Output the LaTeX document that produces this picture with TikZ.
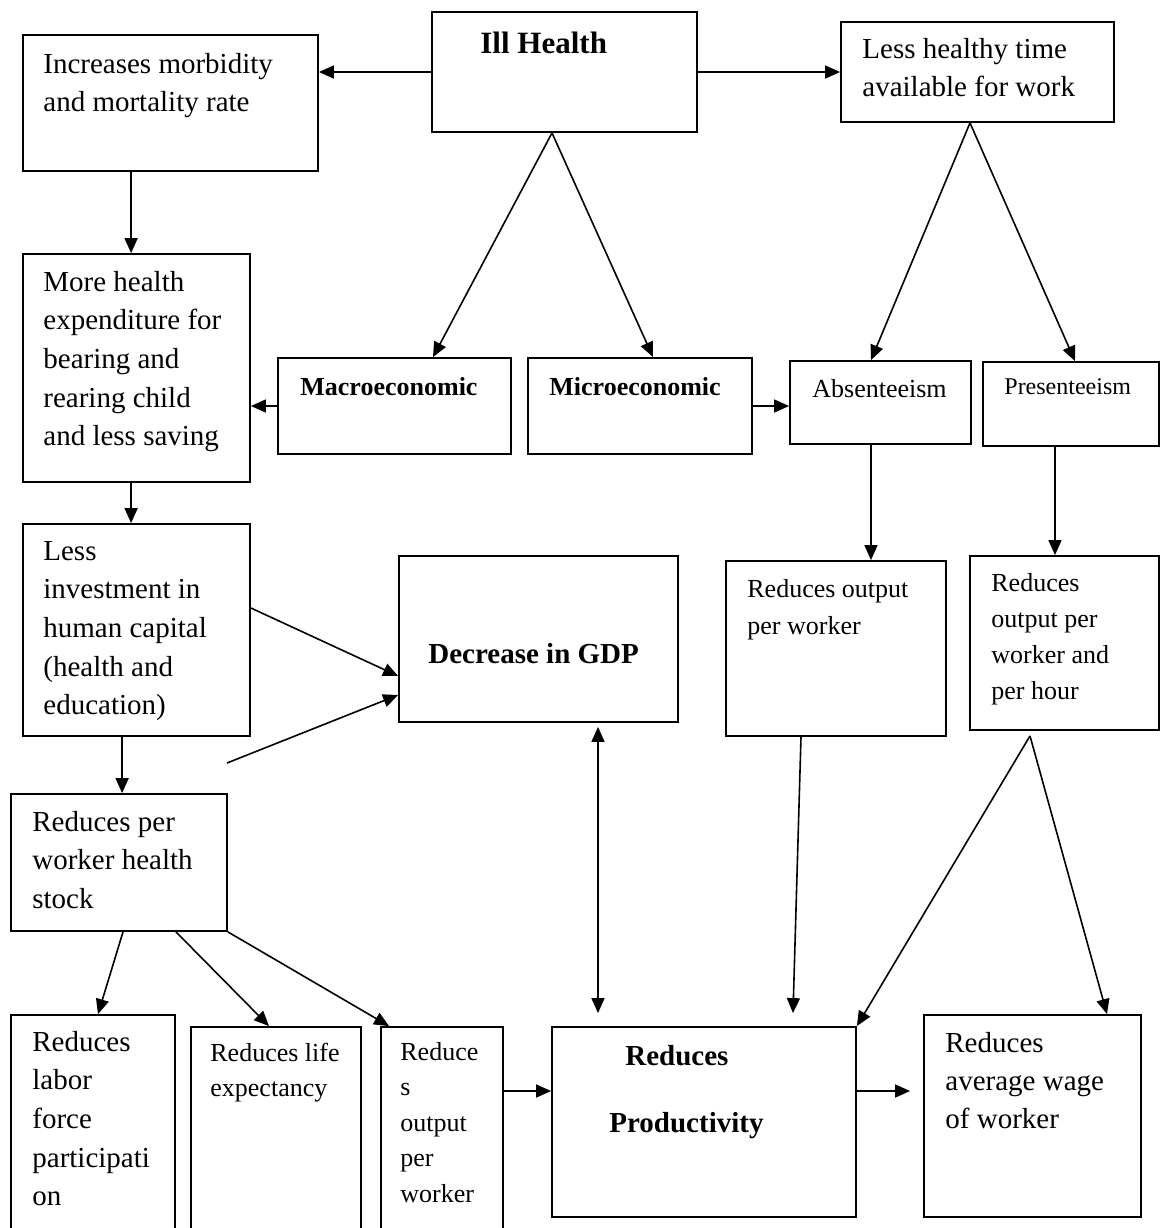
\documentclass[tikz,border=0pt]{standalone}
\usepackage{fontspec}
\setmainfont{Liberation Serif}
\usetikzlibrary{arrows.meta}
% lines stacked from the first baseline down
\newcommand{\boxlines}[1]{\begin{tabular}[t]{@{}l@{}}#1\end{tabular}}

\begin{document}
\begin{tikzpicture}[
  x=0.5pt, y=-0.5pt,
  box/.style={rectangle, draw, line width=0.9pt, inner sep=0pt},
  txt/.style={inner sep=0pt, anchor=base west, font=\fontsize{14.5}{19.35}\selectfont},
  txtsm/.style={txt, font=\fontsize{13}{18}\selectfont},
  hd/.style={txt, font=\fontsize{14.5}{19.35}\selectfont\bfseries},
  hdsm/.style={txt, font=\fontsize{13}{18}\selectfont\bfseries},
  arr/.style={-{Triangle[length=7.5pt,width=6.5pt]}, line width=0.8pt},
  arrboth/.style={{Triangle[length=7.5pt,width=6.5pt]}-{Triangle[length=7.5pt,width=6.5pt]}, line width=0.8pt}
]
\useasboundingbox (0,0) rectangle (1164,1228);
\clip (0,0) rectangle (1164,1228);

% top row
\node[box, minimum width=132.5pt, minimum height=60pt] (ill) at (564.5,72) {};
\node[hd, font=\fontsize{15.5}{19}\selectfont\bfseries] (illtxt) at (480,53) {Ill Health};
\node[box, minimum width=147.5pt, minimum height=68pt] (morb) at (170.5,103) {};
\node[txt] (morbtxt) at (43,73) {\boxlines{Increases morbidity\\and mortality rate}};
\node[box, minimum width=136.5pt, minimum height=50pt] (lessh) at (977.5,72) {};
\node[txt] (lesshtxt) at (862,58) {\boxlines{Less healthy time\\available for work}};

% middle row
\node[box, minimum width=113.5pt, minimum height=114pt] (exp) at (136.5,368) {};
\node[txt] (exptxt) at (43,291) {\boxlines{More health\\expenditure for\\bearing and\\rearing child\\and less saving}};
\node[box, minimum width=116.5pt, minimum height=48pt] (macro) at (394.5,406) {};
\node[hdsm] (macrotxt) at (300,395) {Macroeconomic};
\node[box, minimum width=112pt, minimum height=48pt] (micro) at (640,406) {};
\node[hdsm] (microtxt) at (549,395) {Microeconomic};
\node[box, minimum width=90.5pt, minimum height=41.5pt] (absent) at (880.5,402.5) {};
\node[txtsm] (absenttxt) at (812,397) {Absenteeism};
\node[box, minimum width=88pt, minimum height=42pt] (present) at (1071,404) {};
\node[txt, font=\fontsize{12}{16}\selectfont] (presenttxt) at (1004,394) {Presenteeism};

% lower middle
\node[box, minimum width=113.5pt, minimum height=106pt] (inv) at (136.5,630) {};
\node[txt] (invtxt) at (43,560) {\boxlines{Less\\investment in\\human capital\\(health and\\education)}};
\node[box, minimum width=139.5pt, minimum height=83pt] (gdp) at (538.5,639) {};
\node[hd] (gdptxt) at (428,663) {Decrease in GDP};
\node[box, minimum width=110pt, minimum height=87.5pt] (rop1) at (836,648.5) {};
\node[txtsm, font=\fontsize{13}{18.5}\selectfont] (rop1txt) at (747,597) {\boxlines{Reduces output\\per worker}};
\node[box, minimum width=94.5pt, minimum height=87pt] (rop2) at (1064.5,643) {};
\node[txtsm] (rop2txt) at (991,591) {\boxlines{Reduces\\output per\\worker and\\per hour}};

% bottom row
\node[box, minimum width=108pt, minimum height=68.5pt] (rpw) at (119,862.5) {};
\node[txt] (rpwtxt) at (32,831) {\boxlines{Reduces per\\worker health\\stock}};
\node[box, minimum width=82pt, minimum height=112.5pt] (labor) at (93,1127.5) {};
\node[txt] (labortxt) at (32,1051) {\boxlines{Reduces\\labor\\force\\participati\\on}};
\node[box, minimum width=85pt, minimum height=106.5pt] (life) at (276,1133.5) {};
\node[txtsm, font=\fontsize{13}{17.5}\selectfont] (lifetxt) at (210,1061) {\boxlines{Reduces life\\expectancy}};
\node[box, minimum width=61pt, minimum height=106.5pt] (rout) at (442,1133.5) {};
\node[txtsm, font=\fontsize{13}{17.75}\selectfont] (routtxt) at (400,1060) {\boxlines{Reduce\\s\\output\\per\\worker}};
\node[box, minimum width=152pt, minimum height=95pt] (prod) at (704,1122) {};
\node[hd] (prodtxta) at (625,1065) {Reduces};
\node[hd] (prodtxtb) at (609,1132) {Productivity};
\node[box, minimum width=108.5pt, minimum height=101pt] (wage) at (1032.5,1116) {};
\node[txt, font=\fontsize{14.5}{19}\selectfont] (wagetxt) at (945,1052) {\boxlines{Reduces\\average wage\\of worker}};

% connectors
\draw[arr] (ill.west) -- (ill.west -| morb.east);
\draw[arr] (ill.east) -- (ill.east -| lessh.west);
\draw[arr] ([xshift=54.5pt]morb.south west) -- ([xshift=54.5pt]exp.north west);
\draw[arr] ([xshift=54.5pt]exp.south west) -- ([xshift=54.5pt]inv.north west);
\draw[arr] ([xshift=50pt]inv.south west) -- ([xshift=56pt]rpw.north west);

\coordinate (illV) at ([xshift=-6.25pt]ill.south);
\draw[arr] (illV) -- ([xshift=19.25pt]macro.north);
\draw[arr] (illV) -- ([xshift=6.5pt]micro.north);
\coordinate (lesshV) at ([xshift=-3.75pt]lessh.south);
\draw[arr] (lesshV) -- ([xshift=-4.75pt]absent.north);
\draw[arr] (lesshV) -- ([xshift=2pt]present.north);

\draw[arr] (macro.west) -- (macro.west -| exp.east);
\draw[arr] (micro.east) -- (micro.east -| absent.west);
\draw[arr] ([xshift=-4.75pt]absent.south) -- ([xshift=17.5pt]rop1.north);
\draw[arr] ([xshift=-8pt]present.south) -- ([xshift=-4.75pt]rop2.north);

\draw[arr] ([yshift=11pt]inv.east) -- ([yshift=-18.5pt]gdp.west);
\coordinate (gdpfeed) at (227,763);
\draw[arr] (gdpfeed) -- ([yshift=-28pt]gdp.west);
\draw[arrboth] ([xshift=29.75pt,yshift=-2pt]gdp.south) -- ([xshift=-53pt,yshift=6.5pt]prod.north);

\draw[arr] ([xshift=-17.5pt]rop1.south) -- ([xshift=44.5pt,yshift=6.5pt]prod.north);
\coordinate (rop2V) at ([xshift=-17.25pt,yshift=-2.5pt]rop2.south);
\draw[arr] (rop2V) -- (prod.north east);
\draw[arr] (rop2V) -- ([xshift=37.25pt]wage.north);

\draw[arr] ([xshift=2pt]rpw.south) -- ([xshift=2.5pt]labor.north);
\draw[arr] ([xshift=28.5pt]rpw.south) -- ([xshift=-3.5pt]life.north);
\draw[arr] (rpw.south east) -- ([xshift=4.5pt]rout.north west);

\coordinate (prodin) at ([yshift=15.5pt]prod.west);
\draw[arr] (prodin -| rout.east) -- (prodin);
\coordinate (prodout) at ([yshift=15.5pt]prod.east);
\draw[arr, shorten >=6.5pt] (prodout) -- (prodout -| wage.west);
\end{tikzpicture}
\end{document}
